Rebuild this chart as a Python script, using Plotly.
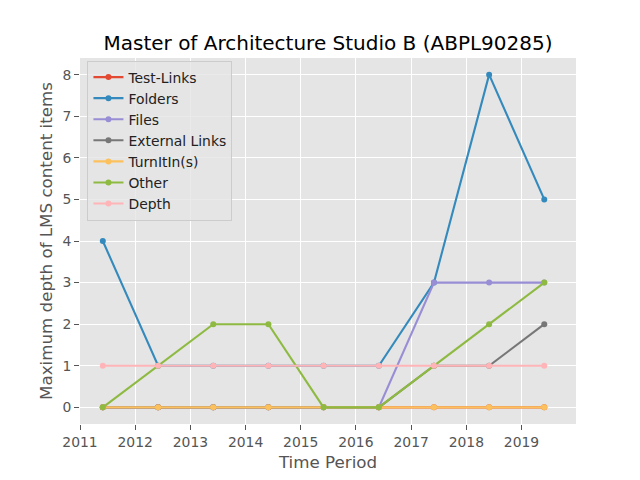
import plotly.graph_objects as go

periods = ["2011-06-01", "2012-06-01", "2013-06-01", "2014-06-01", "2015-06-01",
           "2016-06-01", "2017-06-01", "2018-06-01", "2019-06-01"]
test_links = [0, 0, 0, 0, 0, 0, 0, 0, 0]
folders = [4, 1, 1, 1, 1, 1, 3, 8, 5]
files = [0, 0, 0, 0, 0, 0, 3, 3, 3]
external_links = [0, 0, 0, 0, 0, 0, 1, 1, 2]
turnitins = [0, 0, 0, 0, 0, 0, 0, 0, 0]
other = [0, 1, 2, 2, 0, 0, 1, 2, 3]
depth = [1, 1, 1, 1, 1, 1, 1, 1, 1]

series = [
    ("Test-Links", test_links, "#E24A33"),
    ("Folders", folders, "#348ABD"),
    ("Files", files, "#988ED5"),
    ("External Links", external_links, "#777777"),
    ("TurnItIn(s)", turnitins, "#FBC15E"),
    ("Other", other, "#8EBA42"),
    ("Depth", depth, "#FFB5B8"),
]

tick_years = [str(y) for y in range(2011, 2020)]
tick_vals = [f"{y}-01-01" for y in tick_years]

fig = go.Figure()
for name, vals, color in series:
    fig.add_trace(go.Scatter(
        x=periods, y=vals, name=name, mode="lines+markers",
        line=dict(color=color, width=2.1),
        marker=dict(color=color, size=6),
    ))

font = "DejaVu Sans"
fig.update_layout(
    width=640, height=480,
    margin=dict(l=80, r=64, t=57.6, b=52.8),
    paper_bgcolor="white",
    plot_bgcolor="#E5E5E5",
    font=dict(family=font, size=13.9, color="#555555"),
    title=dict(text="Master of Architecture Studio B (ABPL90285)",
               x=0.5, xref="paper", xanchor="center",
               y=1, yref="paper", yanchor="bottom",
               pad=dict(b=8),
               font=dict(family=font, size=20, color="black")),
    xaxis=dict(
        type="date",
        range=["2011-01-01", "2019-12-28"],
        tickvals=tick_vals, ticktext=tick_years,
        showgrid=True, gridcolor="white", gridwidth=1.1,
        ticks="outside", ticklen=5, tickwidth=1.1, tickcolor="#555555",
        zeroline=False, showline=False,
        title=dict(text="Time Period", font=dict(size=16.7, color="#555555"), standoff=7),
    ),
    yaxis=dict(
        range=[-0.4, 8.4],
        tickvals=list(range(0, 9)),
        showgrid=True, gridcolor="white", gridwidth=1.1,
        ticks="outside", ticklen=5, tickwidth=1.1, tickcolor="#555555",
        zeroline=False, showline=False,
        title=dict(text="Maximum depth of LMS content items", font=dict(size=16.7, color="#555555"), standoff=5),
    ),
    legend=dict(
        x=0.015, y=0.993, xanchor="left", yanchor="top",
        bgcolor="rgba(229,229,229,0.8)", bordercolor="#CCCCCC", borderwidth=1,
        font=dict(family=font, size=13.9, color="#222222"),
        tracegroupgap=0, itemwidth=30,
    ),
)

fig.write_html("out.html")
